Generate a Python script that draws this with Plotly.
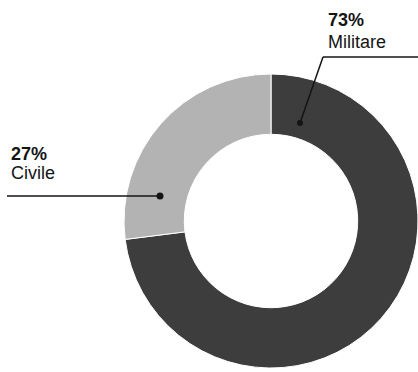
import plotly.graph_objects as go

# Share of the total, by category
categories = ["Militare", "Civile"]
shares = [73, 27]
colors = ["#3d3d3d", "#b3b3b3"]

W, H = 418, 372


def px(x):
    return x / W


def py(y):
    return 1 - y / H


fig = go.Figure(
    go.Pie(
        labels=categories,
        values=shares,
        hole=0.59,
        sort=False,
        direction="clockwise",
        rotation=0,
        marker=dict(colors=colors, line=dict(color="white", width=1)),
        textinfo="none",
        hoverinfo="none",
        showlegend=False,
        domain=dict(x=[px(124), 1.0], y=[py(369), py(73)]),
    )
)

font_family = "Liberation Sans, Arial, sans-serif"
ink = "#141414"

# Leader lines and dots
shapes = [
    # Militare
    dict(type="line", xref="paper", yref="paper",
         x0=px(300), y0=py(123), x1=px(323), y1=py(57),
         line=dict(color=ink, width=1.5)),
    dict(type="line", xref="paper", yref="paper",
         x0=px(323), y0=py(57), x1=px(418), y1=py(57),
         line=dict(color=ink, width=1.5)),
    dict(type="circle", xref="paper", yref="paper",
         x0=px(297), y0=py(126), x1=px(303), y1=py(120),
         fillcolor=ink, line=dict(color=ink, width=0)),
    # Civile
    dict(type="line", xref="paper", yref="paper",
         x0=px(7), y0=py(196), x1=px(160), y1=py(196),
         line=dict(color=ink, width=1.5)),
    dict(type="circle", xref="paper", yref="paper",
         x0=px(156.5), y0=py(199.5), x1=px(163.5), y1=py(192.5),
         fillcolor=ink, line=dict(color=ink, width=0)),
]

labels = [
    (f"<b>{shares[0]}%</b>", 326, 8),
    (categories[0], 326, 30),
    (f"<b>{shares[1]}%</b>", 9, 142),
    (categories[1], 9, 161),
]
annotations = [
    dict(text=t, xref="paper", yref="paper", x=px(x), y=py(y),
         xanchor="left", yanchor="top", showarrow=False,
         font=dict(family=font_family, size=18, color=ink))
    for t, x, y in labels
]

fig.update_layout(
    width=W, height=H,
    margin=dict(l=0, r=0, t=0, b=0),
    paper_bgcolor="white",
    plot_bgcolor="white",
    shapes=shapes,
    annotations=annotations,
)

fig.write_html("out.html")
